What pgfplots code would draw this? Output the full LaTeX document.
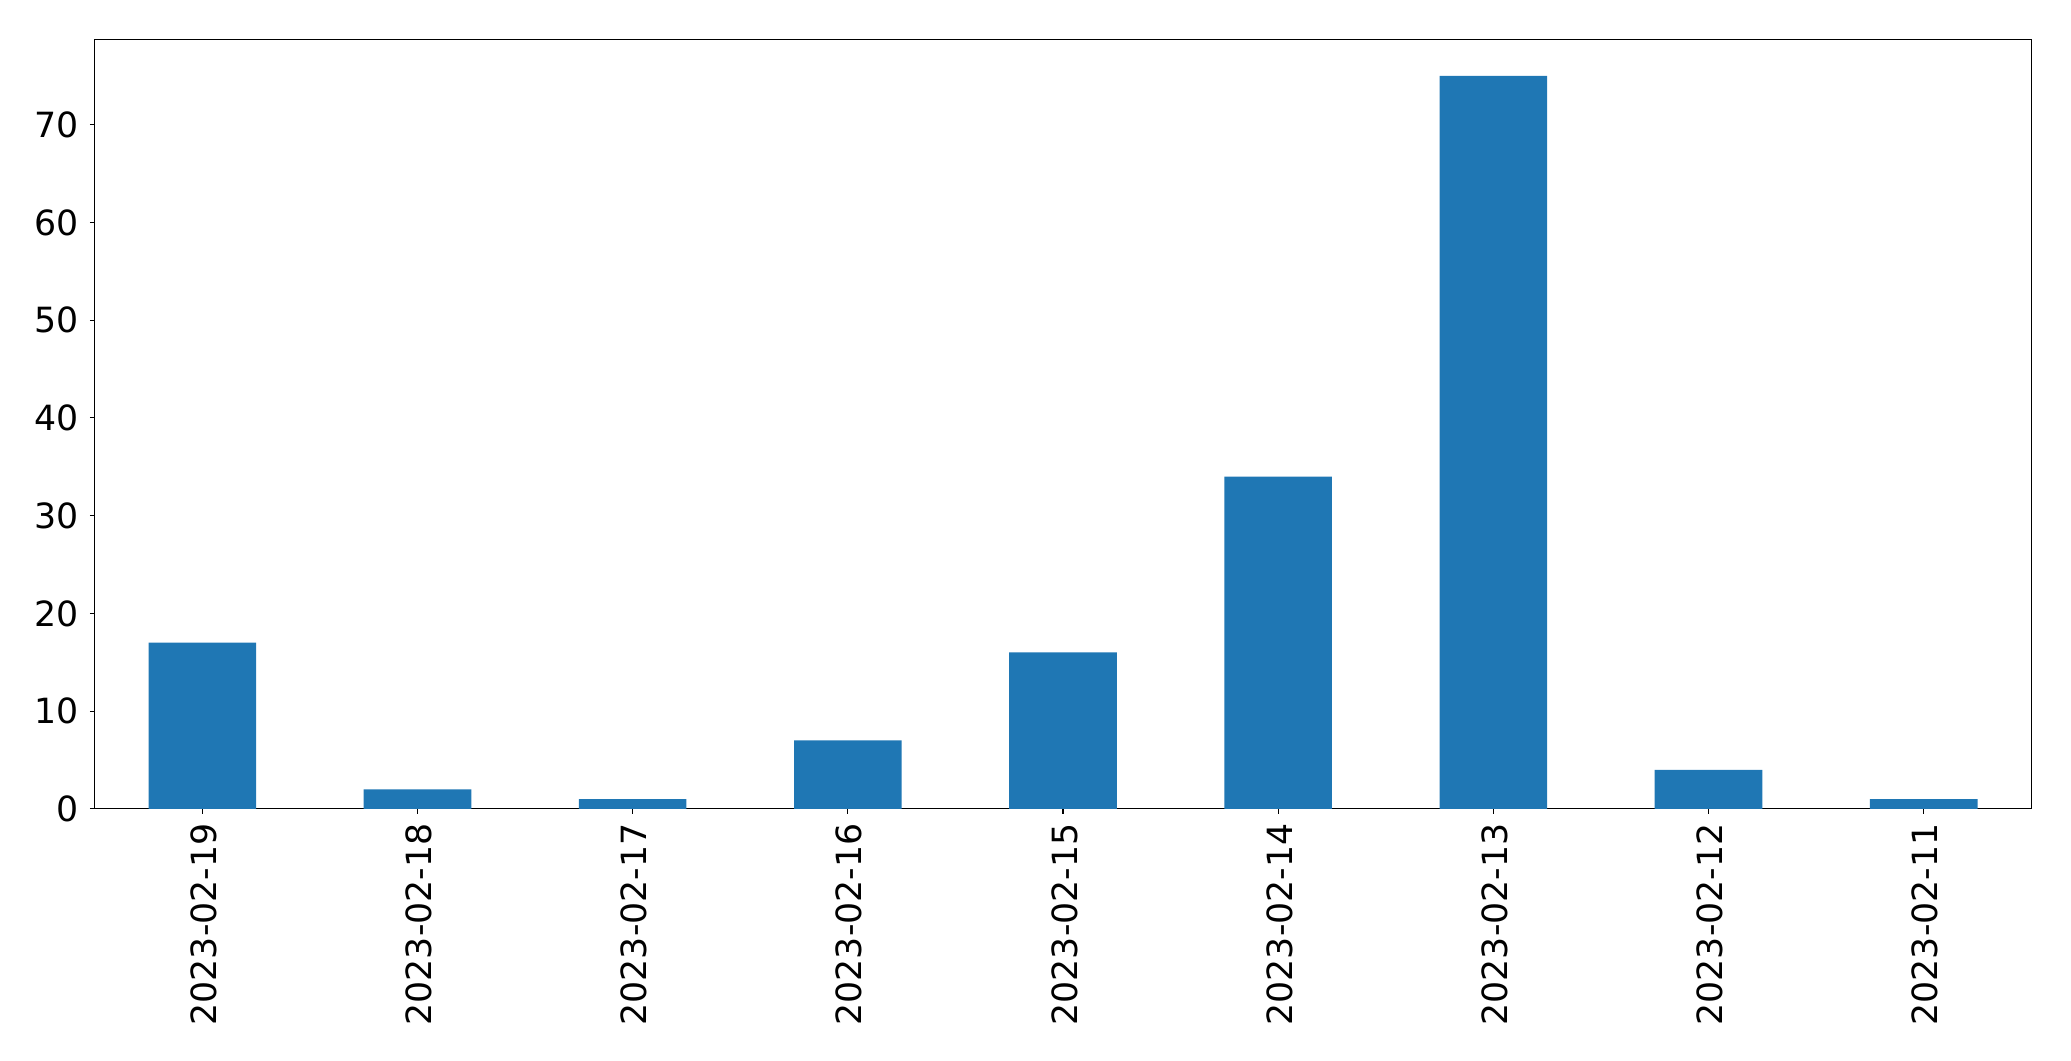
\documentclass[border=0pt]{standalone}
\usepackage{pgfplots}
\pgfplotsset{compat=1.18}
\usepackage{fontspec}
\setmainfont{DejaVu Sans}
\definecolor{mplblue}{HTML}{1F77B4}
\begin{document}
\begin{tikzpicture}
\useasboundingbox (-34.1pt,-90.7pt) rectangle (711.5pt,291.2pt);
\begin{axis}[
  at={(0,0)}, anchor=south west,
  scale only axis, width=697.2pt, height=277.1pt,
  xmin=-0.5, xmax=8.5, ymin=0, ymax=78.75,
  xtick=data,
  xticklabels={2023-02-19,2023-02-18,2023-02-17,2023-02-16,2023-02-15,2023-02-14,2023-02-13,2023-02-12,2023-02-11},
  x tick label style={rotate=90, anchor=east},
  ytick={0,10,20,30,40,50,60,70},
  tick label style={font=\fontsize{12.5}{15}\selectfont},
  /pgf/number format/assume math mode=true,
  tick align=outside, tick pos=left,
  major tick length=1.75pt,
  axis line style={black, line width=0.4pt},
  every tick/.style={black, line width=0.4pt},
  xticklabel style={yshift=-0.5pt},
  yticklabel style={xshift=-0.5pt},
]
\addplot[ybar, bar width=0.5, fill=mplblue, draw=none, bar shift=0pt] coordinates {
(0,17) (1,2) (2,1) (3,7) (4,16) (5,34) (6,75) (7,4) (8,1)
};
\end{axis}
\end{tikzpicture}
\end{document}
